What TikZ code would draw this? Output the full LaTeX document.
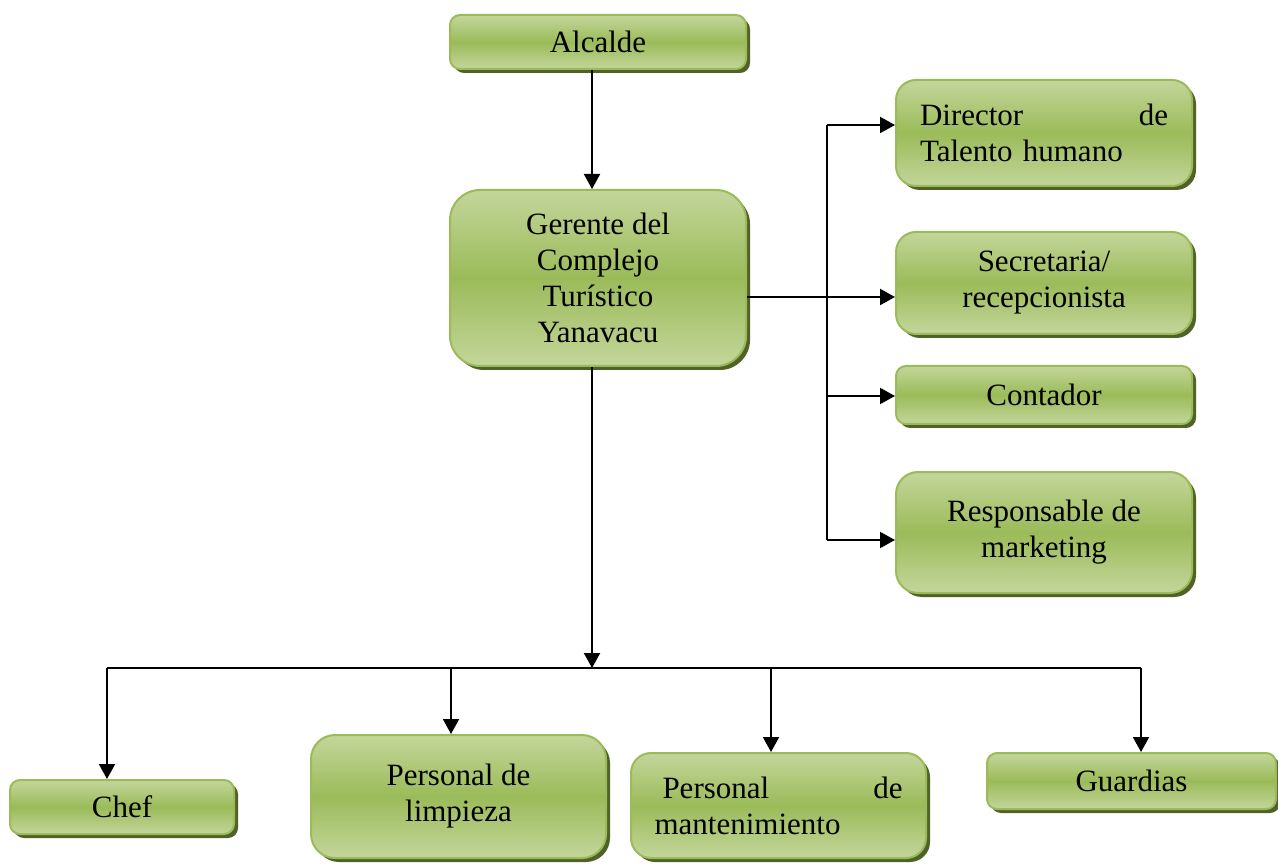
\documentclass[tikz,border=0pt]{standalone}
\usepackage{fontspec}
\setmainfont{Liberation Serif}
\usetikzlibrary{shadows,arrows.meta}
\definecolor{gmid}{HTML}{9BBB59}
\definecolor{glight}{HTML}{C3D69B}
\definecolor{gborder}{HTML}{9BBB59}
\definecolor{gshadow}{HTML}{4F6228}
\tikzset{
  box/.style={draw=gborder, line width=1pt, top color=glight, bottom color=glight, middle color=gmid,
    drop shadow={shadow xshift=2pt,shadow yshift=-2pt,fill=gshadow,opacity=1},
    inner sep=0pt, font=\fontsize{15.5}{18}\selectfont, align=center, rectangle},
  conn/.style={line width=1pt, -{Triangle[length=7.5pt,width=8pt]}},
  plain/.style={line width=1pt}
}
\begin{document}
\begin{tikzpicture}[x=0.5pt,y=-0.5pt]
\useasboundingbox (0,0) rectangle (1278,865);
\node[box, minimum width=148pt, minimum height=27pt, rounded corners=5pt] (alc) at (598,42) {Alcalde};
\node[box, minimum width=148pt, minimum height=88pt, rounded corners=15pt] (ger) at (598,278) {Gerente del\\Complejo\\Turístico\\Yanavacu};
\node[box, minimum width=148pt, minimum height=53pt, rounded corners=10pt, text width=124pt, align=left] (dir) at (1044,133) {Director\hfill de\\Talento humano};
\node[box, minimum width=148pt, minimum height=51pt, rounded corners=10pt] (sec) at (1044,283) {Secretaria/\\recepcionista};
\node[box, minimum width=148pt, minimum height=29pt, rounded corners=5pt] (con) at (1044,395) {Contador};
\node[box, minimum width=148pt, minimum height=60.5pt, rounded corners=11pt] (mar) at (1044,532.5) {Responsable de\\marketing};
\node[box, minimum width=112pt, minimum height=27pt, rounded corners=5pt] (chef) at (122,807) {Chef};
\node[box, minimum width=147.5pt, minimum height=61.5pt, rounded corners=12pt] (lim) at (458.5,796.5) {Personal de\\limpieza};
\node[box, minimum width=147.5pt, minimum height=52.5pt, rounded corners=10pt, text width=124pt, align=left] (man) at (778.5,805.5) {\hspace{4pt}Personal\hfill de\\mantenimiento};
\node[box, minimum width=144.5pt, minimum height=28pt, rounded corners=5pt] (gua) at (1131.5,781) {Guardias};

\coordinate (vx) at (592,668);
\coordinate (b1) at (107,668);
\coordinate (b2) at (451,668);
\coordinate (b3) at (771,668);
\coordinate (b4) at (1141,668);
\coordinate (r0) at (827,297);
\coordinate (r1) at (827,125);
\coordinate (r3) at (827,396);
\coordinate (r4) at (827,540);

\draw[conn] (alc.south -| vx) -- (ger.north -| vx);
\draw[conn] (ger.south -| vx) -- (vx);
\draw[plain] (b1) -- (b4);
\draw[conn] (b1) -- (chef.north -| b1);
\draw[conn] (b2) -- (lim.north -| b2);
\draw[conn] (b3) -- (man.north -| b3);
\draw[conn] (b4) -- (gua.north -| b4);

\draw[plain] (ger.east |- r0) -- (r0);
\draw[plain] (r1) -- (r4);
\draw[conn] (r0) -- (sec.west |- r0);
\draw[conn] (r1) -- (dir.west |- r1);
\draw[conn] (r3) -- (con.west |- r3);
\draw[conn] (r4) -- (mar.west |- r4);
\end{tikzpicture}
\end{document}
